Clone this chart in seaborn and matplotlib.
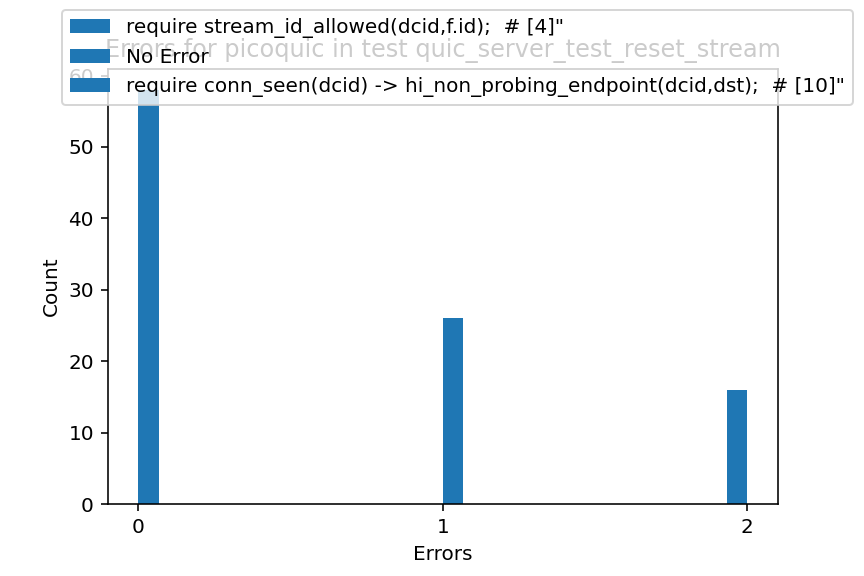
import matplotlib
matplotlib.use('Agg')

import numpy as np
import pandas as pd
import matplotlib.pyplot as plt
import seaborn as sns
from matplotlib.patches import Patch

sns.set_style("ticks")
plt.rcParams['font.family'] = ['DejaVu Sans']
plt.rcParams['text.color'] = 'black'
plt.rcParams['axes.labelcolor'] = 'black'

# 데이터: 에러 개수별 실행 횟수
error_values = [0, 1, 2]
run_counts = [58, 26, 16]
legend_labels = [
    'require stream_id_allowed(dcid,f.id);  # [4]"',
    'No Error',
    'require conn_seen(dcid) -> hi_non_probing_endpoint(dcid,dst);  # [10]"',
]
title = "Errors for picoquic in test quic_server_test_reset_stream"

df = pd.DataFrame({"Errors": error_values, "runs": run_counts})

fig, ax = plt.subplots(figsize=(6, 4), dpi=144)
fig.subplots_adjust(left=0.125, right=0.9, bottom=0.125, top=0.88)

sns.histplot(data=df, x="Errors", weights="runs", bins=30, binrange=(0, 2),
             color='#1f77b4', alpha=1, edgecolor='none', linewidth=0, ax=ax)

for side in ["top", "right", "left", "bottom"]:
    ax.spines[side].set_visible(True)
    ax.spines[side].set_linewidth(0.8)
    ax.spines[side].set_color('black')
ax.tick_params(axis='both', direction='out', length=3.5, width=0.8, labelsize=10,
               colors='black', labelcolor='black')
ax.set_xticks([0, 1, 2])
ax.set_yticks(range(0, 61, 10))
ax.set_xlim(-0.1, 2.1)
ax.set_ylim(0, 58 * 1.05)
ax.set_xlabel("Errors", fontsize=10, color='black')
ax.set_ylabel("Count", fontsize=10, color='black')
ax.set_title(title, fontsize=12, color='black')

handles = [Patch(facecolor='#1f77b4', edgecolor='none') for _ in legend_labels]
leg = fig.legend(handles, legend_labels, loc='upper left',
                 bbox_to_anchor=(61.7 / 864, 1 - 10 / 576), borderaxespad=0,
                 fontsize=10, framealpha=0.8, edgecolor='0.8', fancybox=True)
for t in leg.get_texts():
    t.set_color('black')

plt.savefig("out.png", dpi=144)
plt.close()
